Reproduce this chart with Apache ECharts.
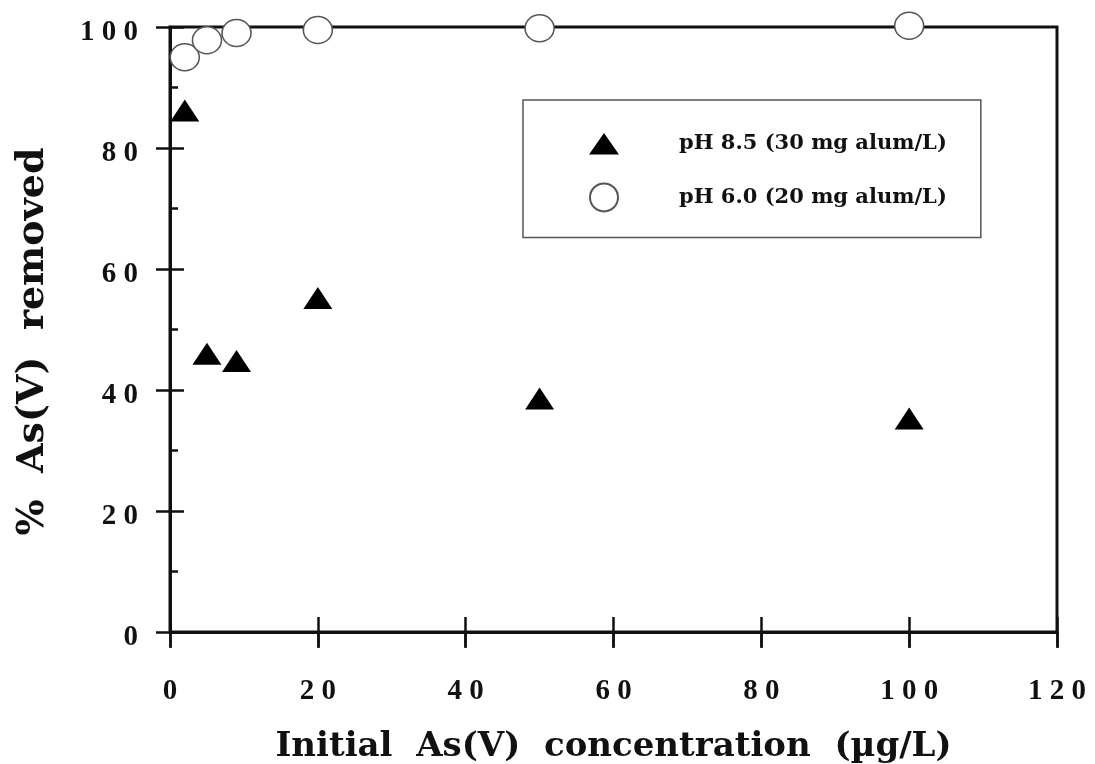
<!DOCTYPE html>
<html>
<head>
<meta charset="utf-8">
<script src="https://cdn.jsdelivr.net/npm/echarts@6/dist/echarts.min.js"></script>
<style>html,body{margin:0;padding:0;background:#fff}#c{width:1095px;height:764px}</style>
</head>
<body>
<div id="c"></div>
<script>
// Data
const ph85X = [2, 5, 9, 20, 50, 100];
const ph85Y = [86.2, 46.0, 44.8, 55.2, 38.6, 35.3];
const ph60X = [2, 5, 9, 20, 50, 100];
const ph60Y = [95.0, 97.8, 99.0, 99.5, 99.8, 100.2];
const seriesNames = ['pH 8.5 (30 mg alum/L)', 'pH 6.0 (20 mg alum/L)'];
const xTitle = 'Initial  As(V)  concentration  (\u00b5g/L)';
const yTitle = '%  As(V)  removed';

const TITLE_FONT = 'DejaVu Serif';
const TICK_FONT = 'Liberation Serif';
const spaced = v => String(v).split('').join(' ');

const chart = echarts.init(document.getElementById('c'));
const tickStyle = { color: '#111', width: 2.5 };
const gridRect = { left: 170, right: 38, top: 27, bottom: 132, outerBoundsMode: 'none', containLabel: false };
chart.setOption({
  backgroundColor: '#fff',
  animation: false,
  grid: [
    Object.assign({ show: true, borderColor: '#111', borderWidth: 3, backgroundColor: 'transparent' }, gridRect),
    Object.assign({ show: false }, gridRect),
    // thin strip just below the x axis, used for the outward half of the x ticks
    { show: false, left: 170, right: 38, top: 632, height: 16, outerBoundsMode: 'none', containLabel: false }
  ],
  legend: {
    orient: 'vertical',
    left: 523, top: 100,
    padding: [33, 34, 25, 66],
    itemGap: 28,
    itemWidth: 30, itemHeight: 28,
    symbolKeepAspect: true,
    borderColor: '#555', borderWidth: 1.5,
    data: [
      { name: seriesNames[0], icon: 'path://M14,0 L28,20 L0,20 Z' },
      { name: seriesNames[1], icon: 'circle' }
    ],
    textStyle: { fontFamily: TITLE_FONT, fontWeight: 'bold', fontSize: 21, color: '#111', padding: [0, 0, 0, 55] }
  },
  xAxis: [
    {
      type: 'value', gridIndex: 0, min: 0, max: 120, interval: 20, position: 'bottom',
      splitLine: { show: false },
      axisLine: { show: true, onZero: false, lineStyle: { color: '#111', width: 3 } },
      axisTick: { show: true, inside: true, length: 15, lineStyle: tickStyle },
      axisLabel: { margin: 45, formatter: spaced, fontFamily: TICK_FONT, fontWeight: 'bold', fontSize: 29, color: '#111' },
      name: xTitle, nameLocation: 'middle', nameGap: 98,
      nameTextStyle: { fontFamily: TITLE_FONT, fontWeight: 'bold', fontSize: 34, color: '#111' }
    },
    {
      type: 'value', gridIndex: 1, min: 0, max: 120, interval: 20, position: 'bottom',
      splitLine: { show: false },
      axisLine: { show: false, onZero: false },
      axisTick: { show: false },
      axisLabel: { show: false }
    },
    {
      type: 'value', gridIndex: 2, min: 0, max: 120, interval: 20, position: 'top',
      splitLine: { show: true, showMinLine: true, showMaxLine: true, lineStyle: { color: '#111', width: 2.5, type: 'solid' } },
      axisLine: { show: false, onZero: false },
      axisTick: { show: true, inside: true, length: 15, lineStyle: tickStyle },
      axisLabel: { show: false }
    }
  ],
  yAxis: [
    {
      type: 'value', gridIndex: 0, min: 0, max: 100, interval: 20, position: 'left',
      splitLine: { show: false },
      axisLine: { show: true, onZero: false, lineStyle: { color: '#111', width: 3 } },
      axisTick: { show: true, inside: false, length: 14, lineStyle: tickStyle },
      axisLabel: { margin: 32, formatter: spaced, fontFamily: TICK_FONT, fontWeight: 'bold', fontSize: 29, color: '#111', verticalAlign: 'top', padding: [-9, 0, 0, 0] },
      name: yTitle, nameLocation: 'middle', nameGap: 118, nameRotate: 90,
      nameTextStyle: { fontFamily: TITLE_FONT, fontWeight: 'bold', fontSize: 38, color: '#111', padding: [0, 24, 0, 0] }
    },
    {
      type: 'value', gridIndex: 1, min: 0, max: 100, interval: 20, position: 'left',
      splitLine: { show: false },
      axisLine: { show: false, onZero: false },
      axisTick: { show: true, inside: true, length: 14, lineStyle: tickStyle },
      minorTick: { show: true, splitNumber: 2, length: 8, lineStyle: tickStyle },
      axisLabel: { show: false }
    },
    {
      type: 'value', gridIndex: 2, min: 0, max: 1, position: 'left',
      axisLine: { show: false }, axisTick: { show: false }, axisLabel: { show: false },
      splitLine: { show: false }
    }
  ],
  series: [
    {
      name: seriesNames[0], type: 'scatter', xAxisIndex: 0, yAxisIndex: 0, clip: false,
      symbol: 'triangle', symbolSize: [29, 22],
      itemStyle: { color: '#000', opacity: 1 },
      data: ph85X.map((x, i) => [x, ph85Y[i]])
    },
    {
      name: seriesNames[1], type: 'scatter', xAxisIndex: 0, yAxisIndex: 0, clip: false,
      symbol: 'circle', symbolSize: [29, 27],
      itemStyle: { color: '#fff', opacity: 1, borderColor: '#555', borderWidth: 1.5 },
      data: ph60X.map((x, i) => [x, ph60Y[i]])
    }
  ]
});
</script>
</body>
</html>
